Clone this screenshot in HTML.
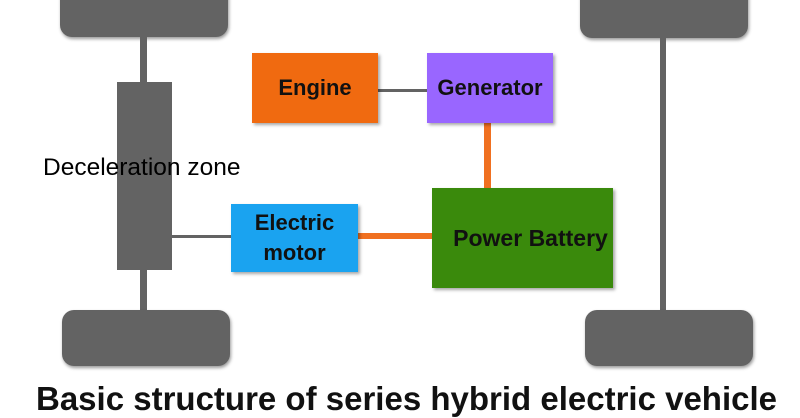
<!DOCTYPE html>
<html><head><style>
body{margin:0;width:800px;height:400px;overflow:hidden;background:#fff;position:relative;font-family:"Liberation Sans",sans-serif}
div{position:absolute;box-sizing:border-box}
.g{background:#636363}
.w{background:#636363;border-radius:12px;box-shadow:1px 2px 3px rgba(0,0,0,.4)}
.b{display:flex;align-items:center;justify-content:center;text-align:center;font-weight:bold;font-size:22px;color:#111;box-shadow:2px 2px 3px rgba(0,0,0,.35);line-height:1.15;white-space:nowrap}
</style></head><body>
<div class="w" style="left:60px;top:-20px;width:168px;height:57px"></div>
<div class="g" style="left:140px;top:37px;width:7px;height:46px"></div>
<div class="g" style="left:117px;top:82px;width:55px;height:188px"></div>
<div class="g" style="left:140px;top:270px;width:7px;height:42px"></div>
<div class="w" style="left:62px;top:310px;width:168px;height:56px"></div>
<div class="w" style="left:580px;top:-20px;width:168px;height:58px"></div>
<div class="g" style="left:660px;top:38px;width:6px;height:274px"></div>
<div class="w" style="left:585px;top:310px;width:168px;height:56px"></div>

<div class="g" style="left:378px;top:89px;width:50px;height:3px"></div>
<div style="left:484px;top:123px;width:7px;height:66px;background:#f07020"></div>
<div class="g" style="left:172px;top:235px;width:60px;height:3px"></div>
<div style="left:358px;top:233px;width:75px;height:6px;background:#f07020"></div>

<div class="b" style="left:252px;top:53px;width:126px;height:70px;background:#f06a10">Engine</div>
<div class="b" style="left:427px;top:53px;width:126px;height:70px;background:#9966ff">Generator</div>
<div class="b" style="left:432px;top:188px;width:181px;height:100px;background:#3a8a0c;padding-left:16px;font-size:23px">Power Battery</div>
<div class="b" style="left:231px;top:204px;width:127px;height:68px;background:#1aa3f0;line-height:1.35">Electric<br>motor</div>

<div style="left:43px;top:154px;font-size:24.5px;color:#000;white-space:nowrap">Deceleration zone</div>
<div style="left:36px;top:380px;font-size:33px;font-weight:bold;color:#111;white-space:nowrap">Basic structure of series hybrid electric vehicle</div>
</body></html>
